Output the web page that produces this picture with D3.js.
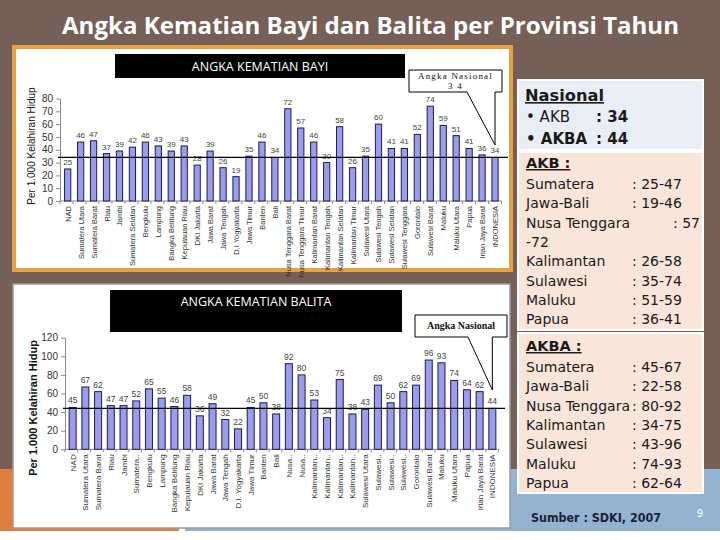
<!DOCTYPE html>
<html>
<head>
<meta charset="utf-8">
<script src="https://cdn.jsdelivr.net/npm/d3@7/dist/d3.min.js"></script>
<style>
  html, body { margin: 0; padding: 0; background: #fff; }
  svg { display: block; }
</style>
</head>
<body>
<svg id="slide" width="720" height="540"></svg>
<script>
// ---------- DATA ----------
const provincesAKB = ["NAD","Sumatera Utara","Sumatera Barat","Riau","Jambi","Sumatera Selatan","Bengkulu","Lampung","Bangka Belitung","Kepulauan Riau","DKI Jakarta","Jawa Barat","Jawa Tengah","D.I Yogyakarta","Jawa Timur","Banten","Bali","Nusa Tenggara Barat","Nusa Tenggara Timur","Kalimantan Barat","Kalimantan Tengah","Kalimantan Selatan","Kalimantan Timur","Sulawesi Utara","Sulawesi Tengah","Sulawesi Selatan","Sulawesi Tenggara","Gorontalo","Sulawesi Barat","Maluku","Maluku Utara","Papua","Irian Jaya Barat","INDONESIA"];
const valuesAKB = [25,46,47,37,39,42,46,43,39,43,28,39,26,19,35,46,34,72,57,46,30,58,26,35,60,41,41,52,74,59,51,41,36,34];
const ticksAKB = [0,10,20,30,40,50,60,70,80];
const nationalAKB = 34;

const provincesAKBA = ["NAD","Sumatera Utara","Sumatera Barat","Riau","Jambi","Sumatera..","Bengkulu","Lampung","Bangka Belitung","Kepulauan Riau","DKI Jakarta","Jawa Barat","Jawa Tengah","D.I. Yogyakarta","Jawa Timur","Banten","Bali","Nusa..","Nusa..","Kalimantan..","Kalimantan..","Kalimantan..","Kalimantan..","Sulawesi Utara","Sulawesi..","Sulawesi..","Sulawesi..","Gorontalo","Sulawesi Barat","Maluku","Maluku Utara","Papua","Irian Jaya Barat","INDONESIA"];
const valuesAKBA = [45,67,62,47,47,52,65,55,46,58,36,49,32,22,45,50,38,92,80,53,34,75,38,43,69,50,62,69,96,93,74,64,62,44];
const ticksAKBA = [0,20,40,60,80,100,120];
const nationalAKBA = 44;

const titleLine1 = "Angka Kematian Bayi dan Balita per Provinsi Tahun";
const titleLine2 = "2007";
const chartTitleAKB = "ANGKA  KEMATIAN BAYI";
const chartTitleAKBA = "ANGKA  KEMATIAN BALITA";
const yTitle = "Per 1.000 Kelahiran Hidup";

const nasionalLines = [["• AKB", ": 34", false], ["• AKBA", ": 44", true]];
const akbRows = [["Sumatera", ": 25-47"], ["Jawa-Bali", ": 19-46"], ["Nusa Tenggara", ": 57"], ["-72", ""], ["Kalimantan", ": 26-58"], ["Sulawesi", ": 35-74"], ["Maluku", ": 51-59"], ["Papua", ": 36-41"]];
const akbaRows = [["Sumatera", ": 45-67"], ["Jawa-Bali", ": 22-58"], ["Nusa Tenggara", ": 80-92"], ["Kalimantan", ": 34-75"], ["Sulawesi", ": 43-96"], ["Maluku", ": 74-93"], ["Papua", ": 62-64"]];
const sourceText = "Sumber : SDKI, 2007";
const pageNumber = "9";

// ---------- SLIDE BACKGROUND ----------
const svg = d3.select("#slide");
svg.append("rect").attr("x",0).attr("y",0).attr("width",720).attr("height",540).attr("fill","#ffffff");
svg.append("rect").attr("x",0).attr("y",0).attr("width",720).attr("height",469).attr("fill","#765f57");
svg.append("rect").attr("x",0).attr("y",469).attr("width",179).attr("height",62).attr("fill","#e07d42");
svg.append("rect").attr("x",185).attr("y",469).attr("width",535).attr("height",62).attr("fill","#93b3d0");

// Title
svg.append("text").attr("x",62).attr("y",34).text(titleLine1)
  .attr("font-family","Open Sans, sans-serif").attr("font-weight","bold").attr("font-size",23.5)
  .attr("fill","#ffffff").attr("textLength",617).attr("lengthAdjust","spacingAndGlyphs");
svg.append("text").attr("x",370).attr("y",63).attr("text-anchor","middle").text(titleLine2)
  .attr("font-family","Open Sans, sans-serif").attr("font-weight","bold").attr("font-size",23.5)
  .attr("fill","#ffffff");

// ---------- CHART DRAWING ----------
function drawChart(opt) {
  const g = svg.append("g");
  const x = d3.scaleBand().domain(d3.range(opt.values.length)).range(opt.xRange).paddingInner(opt.pad).paddingOuter(opt.pad/2);
  const y = d3.scaleLinear().domain([opt.ticks[0], opt.ticks[opt.ticks.length-1]]).range(opt.yRange);

  // y axis
  const ay = g.append("g").attr("transform", `translate(${opt.axisX},0)`)
    .call(d3.axisLeft(y).tickValues(opt.ticks).tickSize(4).tickPadding(3).tickSizeOuter(0));
  ay.selectAll("path,line").attr("stroke","#8a8a8a");
  ay.selectAll("text").attr("font-family","Liberation Sans, Arial, sans-serif").attr("font-size",opt.tickFont).attr("fill","#333");

  // x axis baseline and separators
  const y0 = y(0);
  g.append("line").attr("x1",opt.axisX).attr("x2",x.range()[1]).attr("y1",y0).attr("y2",y0).attr("stroke","#8a8a8a");
  g.selectAll(".sep").data(d3.range(opt.values.length+1)).join("line")
    .attr("x1", i => opt.axisX + i * (x.range()[1]-opt.axisX)/opt.values.length)
    .attr("x2", i => opt.axisX + i * (x.range()[1]-opt.axisX)/opt.values.length)
    .attr("y1", y0).attr("y2", y0+3).attr("stroke","#8a8a8a");

  // bars
  g.selectAll(".bar").data(opt.values).join("rect")
    .attr("x",(d,i)=>x(i)).attr("width",x.bandwidth())
    .attr("y",d=>y(d)).attr("height",d=>y0-y(d))
    .attr("fill","#9c9cec").attr("stroke","#1c1c50").attr("stroke-width",1);

  // value labels
  g.selectAll(".val").data(opt.values).join("text")
    .attr("x",(d,i)=>x(i)+x.bandwidth()/2).attr("y",d=>y(d)-4)
    .attr("text-anchor","middle").text(d=>d)
    .attr("font-family","Liberation Sans, Arial, sans-serif").attr("font-size",opt.valFont).attr("fill","#444");

  // category labels
  g.selectAll(".cat").data(opt.labels).join("text")
    .attr("transform",(d,i)=>`translate(${x(i)+x.bandwidth()/2+3},${y0+5}) rotate(-90)`)
    .attr("text-anchor","end").text(d=>d)
    .attr("font-family",opt.catFamily).attr("font-size",opt.catFont).attr("fill","#333");

  // national line
  g.append("line").attr("x1",opt.axisX-2).attr("x2",opt.lineEnd)
    .attr("y1",y(opt.national)).attr("y2",y(opt.national)).attr("stroke","#000").attr("stroke-width",1.2);

  // y title
  g.append("text").attr("transform",`translate(${opt.yTitleX},${opt.yTitleY}) rotate(-90)`)
    .attr("text-anchor","middle").text(yTitle)
    .attr("font-family","Liberation Sans, Arial, sans-serif").attr("font-size",opt.yTitleFont)
    .attr("font-weight",opt.yTitleWeight).attr("fill","#111");

  // black title box
  g.append("rect").attr("x",opt.tb[0]).attr("y",opt.tb[1]).attr("width",opt.tb[2]).attr("height",opt.tb[3]).attr("fill","#000");
  g.append("text").attr("x",opt.tb[0]+opt.tb[2]/2).attr("y",opt.tb[4]).attr("text-anchor","middle")
    .text(opt.title).attr("font-family","Open Sans, sans-serif").attr("font-size",12.5).attr("fill","#fff");

  // callout
  const cb = opt.callout;
  const tipX = x(opt.values.length-1)+x.bandwidth()/2;
  g.append("path")
    .attr("d",`M${cb.x},${cb.y} H${cb.x+cb.w} V${cb.y+cb.h} H${tipX} V${cb.tipY} L${cb.px},${cb.y+cb.h} H${cb.x} Z`)
    .attr("fill","#fff").attr("stroke","#000").attr("stroke-width",1);
  cb.lines.forEach((t,k)=>{
    g.append("text").attr("x",cb.x+cb.w/2).attr("y",cb.y+cb.base[k]).attr("text-anchor","middle").text(t)
      .attr("font-family","Liberation Serif, serif").attr("font-size",cb.font).attr("font-weight",cb.weight)
      .attr("letter-spacing",cb.ls).attr("fill","#111");
  });
}

// Chart 1 panel (orange frame)
svg.append("rect").attr("x",14).attr("y",47).attr("width",497).attr("height",223)
  .attr("fill","#fff").attr("stroke","#e9a23b").attr("stroke-width",4);

drawChart({
  values: valuesAKB, labels: provincesAKB, ticks: ticksAKB, national: nationalAKB,
  xRange: [61.2, 501.5], pad: 0.52, yRange: [201, 98.5], axisX: 60,
  tickFont: 10, valFont: 8, catFont: 7.5, catFamily: "Liberation Sans Narrow, Arial Narrow, Liberation Sans, sans-serif",
  lineEnd: 508, yTitleX: 35, yTitleY: 146, yTitleFont: 10, yTitleWeight: "normal",
  tb: [115, 54, 290, 24, 71], title: chartTitleAKB,
  callout: {x: 409, y: 70, w: 93, h: 22, px: 467, tipY: 145, lines: ["Angka Nasional", "3 4"], base: [9, 19], font: 9, weight: "normal", ls: 1.2}
});

// Chart 2 panel
svg.append("rect").attr("x",13).attr("y",284).attr("width",497).attr("height",244)
  .attr("fill","#fff").attr("stroke","#9a9a9a").attr("stroke-width",1.5);

drawChart({
  values: valuesAKBA, labels: provincesAKBA, ticks: ticksAKBA, national: nationalAKBA,
  xRange: [66.3, 498.7], pad: 0.45, yRange: [449.3, 337.7], axisX: 65,
  tickFont: 10, valFont: 8.5, catFont: 8, catFamily: "Liberation Sans, Arial, sans-serif",
  lineEnd: 505, yTitleX: 37, yTitleY: 408, yTitleFont: 11, yTitleWeight: "bold",
  tb: [110, 290, 292, 42, 306], title: chartTitleAKBA,
  callout: {x: 415, y: 315, w: 92, h: 22, px: 468, tipY: 390, lines: ["Angka Nasional"], base: [14], font: 10, weight: "bold", ls: 0}
});

// ---------- RIGHT INFO PANEL ----------
const tf = "DejaVu Sans, Verdana, sans-serif";
function box(x0, y0, w, h, fill) {
  svg.append("rect").attr("x",x0).attr("y",y0).attr("width",w).attr("height",h)
    .attr("fill",fill).attr("stroke","#ffffff").attr("stroke-width",2);
}
box(518, 80, 185, 70, "#e9eef6");
box(518, 152, 185, 178, "#f9e5d9");
box(518, 333, 185, 160, "#f9e5d9");

function txt(x0, y0, s, size, weight, anchor, underline) {
  return svg.append("text").attr("x",x0).attr("y",y0).text(s)
    .attr("font-family",tf).attr("font-size",size).attr("font-weight",weight||"normal")
    .attr("text-anchor",anchor||"start").attr("fill","#1a1a1a")
    .attr("text-decoration", underline ? "underline" : null);
}
txt(525, 101, "Nasional", 16, "bold", "start", true).attr("textLength",79).attr("lengthAdjust","spacingAndGlyphs");
nasionalLines.forEach((r,k)=>{
  const yy = 122 + k*22;
  txt(526, yy, r[0], 15, r[2] ? "bold" : "normal");
  txt(596, yy, r[1], 15, "bold");
});

txt(526, 168, "AKB :", 14.5, "bold", "start", true);
akbRows.forEach((r,k)=>{
  const yy = 189 + k*19.3;
  txt(526, yy, r[0], 14, "normal");
  if (r[1]) txt(r[0]==="Nusa Tenggara" ? 673 : 632, yy, r[1], 14, "normal");
});

txt(526, 351, "AKBA :", 14.5, "bold", "start", true);
akbaRows.forEach((r,k)=>{
  const yy = 372 + k*19.3;
  txt(526, yy, r[0], 14, "normal");
  txt(632, yy, r[1], 14, "normal");
});

svg.append("text").attr("x",531).attr("y",522).text(sourceText)
  .attr("font-family",tf).attr("font-size",13).attr("font-weight","bold").attr("fill","#1a1f3a")
  .attr("textLength",130).attr("lengthAdjust","spacingAndGlyphs");
svg.append("text").attr("x",700).attr("y",517).attr("text-anchor","middle").text(pageNumber)
  .attr("font-family",tf).attr("font-size",10).attr("fill","#ffffff");
</script>
</body>
</html>
